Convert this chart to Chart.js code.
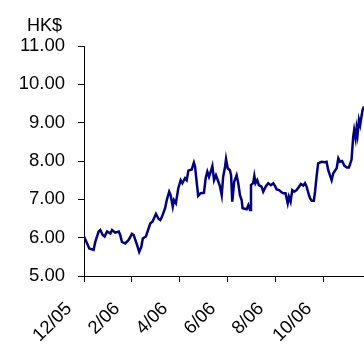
<!DOCTYPE html>
<html>
<head>
<meta charset="utf-8">
<script src="https://cdn.jsdelivr.net/npm/chart.js@4"></script>
<style>
  html, body { margin: 0; padding: 0; background: #ffffff; overflow: hidden; }
  #wrap { width: 364px; height: 347px; position: relative; }
</style>
</head>
<body>
<div id="wrap"><canvas id="c" width="364" height="347"></canvas></div>
<script>
// Time position of each reading, in months after the 12/05 tick
const months = [
  0.00, 0.13, 0.22, 0.40, 0.47, 0.61, 0.68, 0.78, 0.86, 0.96,
  1.10, 1.17, 1.30, 1.45, 1.51, 1.58, 1.72, 1.86, 2.00, 2.07,
  2.21, 2.30, 2.39, 2.45, 2.58, 2.67, 2.76, 2.86, 2.95, 3.00,
  3.10, 3.18, 3.24, 3.38, 3.45, 3.55, 3.61, 3.70, 3.75, 3.83,
  3.93, 4.03, 4.10, 4.21, 4.28, 4.35, 4.49, 4.58, 4.63, 4.70,
  4.76, 4.86, 5.00, 5.07, 5.14, 5.21, 5.28, 5.35, 5.42, 5.50,
  5.60, 5.67, 5.74, 5.80, 5.88, 5.92, 5.99, 6.08, 6.13, 6.18,
  6.26, 6.36, 6.43, 6.50, 6.57, 6.61, 6.78, 6.85, 6.92, 6.96,
  7.05, 7.10, 7.15, 7.22, 7.29, 7.40, 7.47, 7.57, 7.68, 7.79,
  7.89, 7.96, 8.03, 8.13, 8.21, 8.30, 8.40, 8.49, 8.54, 8.61,
  8.68, 8.76, 8.86, 8.96, 9.04, 9.14, 9.21, 9.28, 9.35, 9.42,
  9.49, 9.58, 9.63, 9.70, 9.76, 9.90, 10.04, 10.11, 10.18, 10.25,
  10.32, 10.39, 10.53, 10.60, 10.67, 10.76, 10.85, 10.95, 11.04, 11.15,
  11.22, 11.26, 11.32, 11.36, 11.40, 11.46, 11.51, 11.57, 11.61, 11.67
];
// Share price, HK$
const prices = [
  6.03, 5.85, 5.72, 5.68, 5.89, 6.16, 6.20, 6.07, 6.03, 6.16,
  6.11, 6.20, 6.13, 6.16, 6.07, 5.89, 5.85, 5.94, 6.10, 6.07,
  5.81, 5.63, 5.76, 5.98, 6.03, 6.20, 6.37, 6.42, 6.55, 6.62,
  6.50, 6.46, 6.53, 6.77, 6.98, 7.20, 7.11, 6.81, 6.98, 6.90,
  7.29, 7.50, 7.42, 7.55, 7.50, 7.75, 7.78, 7.96, 7.85, 7.42,
  7.09, 7.16, 7.17, 7.55, 7.72, 7.59, 7.72, 7.87, 7.50, 7.63,
  7.46, 7.33, 7.11, 7.59, 7.85, 8.05, 7.81, 7.76, 7.63, 6.94,
  7.46, 7.63, 7.42, 7.11, 6.98, 6.77, 6.74, 6.85, 6.72, 7.37,
  7.42, 7.61, 7.42, 7.50, 7.37, 7.33, 7.20, 7.33, 7.42, 7.37,
  7.42, 7.35, 7.26, 7.24, 7.20, 7.16, 7.16, 6.90, 7.07, 6.94,
  7.24, 7.20, 7.24, 7.33, 7.40, 7.36, 7.42, 7.33, 7.16, 7.03,
  6.96, 6.96, 7.20, 7.63, 7.94, 7.98, 7.97, 7.98, 7.76, 7.63,
  7.50, 7.68, 7.81, 8.07, 7.98, 8.00, 7.88, 7.83, 7.83, 8.03,
  8.63, 8.81, 8.59, 8.85, 8.68, 9.07, 8.94, 9.18, 9.33, 9.42
];
const xTickValues = [0, 2, 4, 6, 8, 10];
const xTickLabels = ['12/05', '2/06', '4/06', '6/06', '8/06', '10/06'];
const yTickValues = [5, 6, 7, 8, 9, 10, 11];
const unitLabel = 'HK$';

const FONT = "'Liberation Sans', Arial, sans-serif";
const points = months.map((m, i) => ({ x: m, y: prices[i] }));

// Draws the unit caption above the value axis
const unitCaption = {
  id: 'unitCaption',
  afterDraw(chart) {
    const ctx = chart.ctx;
    ctx.save();
    ctx.fillStyle = '#000000';
    ctx.font = '18px ' + FONT;
    ctx.textAlign = 'left';
    ctx.textBaseline = 'alphabetic';
    ctx.fillText(unitLabel, 27, 31);
    ctx.restore();
  }
};

new Chart(document.getElementById('c'), {
  type: 'line',
  data: {
    datasets: [{
      data: points,
      borderColor: '#000080',
      borderWidth: 2.5,
      pointRadius: 0,
      tension: 0,
      fill: false
    }]
  },
  options: {
    responsive: false,
    animation: false,
    events: [],
    layout: { padding: { left: 0, right: 0, top: 46, bottom: 0 } },
    plugins: {
      legend: { display: false },
      tooltip: { enabled: false },
      title: { display: false }
    },
    scales: {
      x: {
        type: 'linear',
        min: 0,
        max: 11.67,
        afterBuildTicks: (s) => { s.ticks = xTickValues.map(v => ({ value: v })); },
        afterFit: (s) => { s.height = 71; s.paddingLeft = 0; s.paddingRight = 0; },
        border: { display: true, color: '#000000', width: 1 },
        grid: { display: true, drawOnChartArea: false, drawTicks: true, tickLength: 6, color: '#000000', lineWidth: 1 },
        ticks: {
          autoSkip: false,
          minRotation: 45,
          maxRotation: 45,
          labelOffset: -15,
          padding: 16,
          color: '#000000',
          font: { family: FONT, size: 18.5 },
          callback: (v) => { const i = xTickValues.indexOf(v); return i >= 0 ? xTickLabels[i] : ''; }
        }
      },
      y: {
        min: 5,
        max: 11,
        afterBuildTicks: (s) => { s.ticks = yTickValues.map(v => ({ value: v })); },
        afterFit: (s) => { s.width = 84; s.paddingTop = 0; s.paddingBottom = 0; },
        border: { display: true, color: '#000000', width: 1 },
        grid: { display: true, drawOnChartArea: false, drawTicks: true, tickLength: 6, color: '#000000', lineWidth: 1 },
        ticks: {
          padding: 13,
          color: '#000000',
          font: { family: FONT, size: 18.5 },
          callback: (v) => Number(v).toFixed(2)
        }
      }
    }
  },
  plugins: [unitCaption]
});
</script>
</body>
</html>
